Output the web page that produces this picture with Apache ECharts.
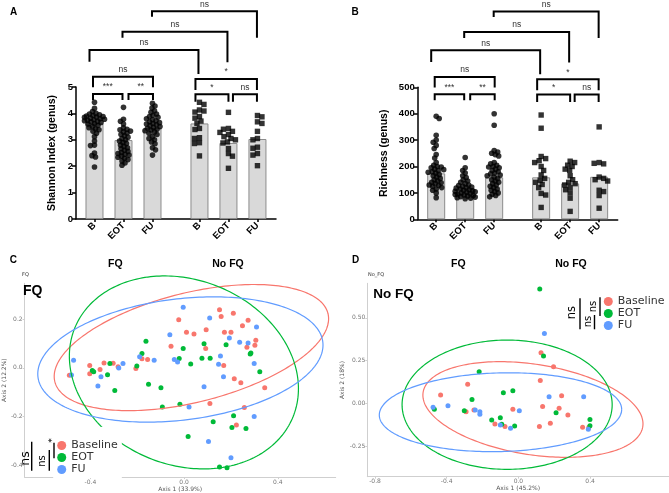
<!DOCTYPE html>
<html><head><meta charset="utf-8">
<script src="https://cdn.jsdelivr.net/npm/echarts@6/dist/echarts.min.js"></script>
<style>html,body{margin:0;padding:0;background:#fff}#c{width:669px;height:493px}</style>
</head><body><div id="c"></div>
<script>
// ---------------- DATA ----------------
const barCategories = ['B', 'EOT', 'FU', 'B', 'EOT', 'FU'];
const barGroups = ['FQ', 'FQ', 'FQ', 'No FQ', 'No FQ', 'No FQ'];
const groupNames = ['FQ', 'No FQ'];

const shannonTicks = [0, 1, 2, 3, 4, 5];
const richnessTicks = [0, 100, 200, 300, 400, 500];

const shannonMeans = [3.62, 2.99, 3.45, 3.62, 2.88, 3.03];
const shannonFqB = [4.42, 4.19, 4.07, 4.0, 3.98, 3.95, 3.92, 3.9, 3.88, 3.86, 3.85, 3.82, 3.8, 3.78, 3.76, 3.74, 3.72, 3.7, 3.68, 3.66, 3.62, 3.6, 3.55, 3.5, 3.46, 3.42, 3.38, 3.32, 3.25, 3.12, 2.95, 2.8, 2.78, 2.5, 2.4, 2.35, 1.97];
const shannonFqEOT = [4.23, 3.78, 3.7, 3.6, 3.45, 3.4, 3.38, 3.33, 3.3, 3.26, 3.2, 3.15, 3.1, 3.05, 3.0, 2.95, 2.9, 2.86, 2.8, 2.75, 2.7, 2.66, 2.6, 2.56, 2.52, 2.48, 2.45, 2.42, 2.38, 2.34, 2.3, 2.25, 2.2, 2.12, 2.04];
const shannonFqFU = [4.38, 4.28, 4.2, 4.1, 4.04, 3.98, 3.92, 3.88, 3.85, 3.8, 3.76, 3.72, 3.68, 3.65, 3.62, 3.6, 3.57, 3.54, 3.5, 3.47, 3.44, 3.4, 3.37, 3.34, 3.3, 3.25, 3.2, 3.12, 3.05, 3.0, 2.92, 2.85, 2.7, 2.62, 2.42];
const shannonNoFqB = [4.42, 4.34, 4.13, 4.09, 4.05, 3.88, 3.82, 3.71, 3.62, 3.43, 3.39, 3.08, 3.05, 2.89, 2.86, 2.39];
const shannonNoFqEOT = [4.04, 3.43, 3.4, 3.32, 3.28, 3.2, 3.12, 3.05, 3.0, 2.92, 2.88, 2.67, 2.48, 2.38, 1.92];
const shannonNoFqFU = [3.92, 3.87, 3.68, 3.62, 3.32, 3.05, 3.0, 2.72, 2.68, 2.48, 2.42, 2.02];

const richnessMeans = [174, 117, 159, 159, 136, 161];
const richnessFqB = [390, 382, 318, 300, 292, 280, 268, 245, 232, 215, 205, 200, 198, 195, 190, 188, 185, 180, 178, 175, 170, 165, 160, 155, 150, 145, 140, 138, 135, 130, 128, 125, 120, 115, 110, 100, 82];
const richnessFqEOT = [234, 195, 185, 175, 165, 158, 150, 145, 140, 135, 130, 128, 125, 122, 120, 118, 115, 112, 110, 108, 106, 104, 102, 100, 98, 96, 94, 92, 90, 88, 86, 84, 82, 80, 78];
const richnessFqFU = [400, 356, 260, 255, 250, 245, 240, 215, 210, 205, 200, 198, 195, 190, 185, 180, 175, 172, 168, 165, 160, 155, 150, 145, 140, 135, 130, 125, 120, 115, 110, 105, 100, 95, 90, 85];
const richnessNoFqB = [395, 345, 238, 230, 222, 215, 200, 185, 168, 155, 148, 140, 132, 120, 98, 92, 45];
const richnessNoFqEOT = [220, 215, 205, 200, 190, 185, 165, 150, 140, 135, 130, 120, 112, 100, 80, 30];
const richnessNoFqFU = [350, 215, 212, 210, 160, 155, 150, 145, 110, 105, 90, 42];

// comparisons: [fromBar, toBar, label]
const comparisons = [[2, 5, 'ns'], [1, 4, 'ns'], [0, 3, 'ns'], [0, 2, 'ns'], [0, 1, '***'], [1, 2, '**'], [3, 5, '*'], [3, 4, '*'], [4, 5, 'ns']];

const pcoaGroups = ['Baseline', 'EOT', 'FU'];
const pcoaColors = ['#F8766D', '#00BA38', '#619CFF'];

const fqBaseline = [[-0.49,-0.031],[-0.403,0.0095],[-0.403,-0.024],[-0.359,-0.007],[-0.342,0.02],[-0.303,0.019],[-0.282,0.004],[-0.206,-0.003],[-0.18,0.037],[-0.156,0.034],[-0.056,0.088],[-0.023,0.197],[0.01,0.146],[0.042,0.139],[0.094,0.156],[0.092,0.079],[0.151,0.238],[0.158,0.211],[0.172,0.146],[0.2,0.146],[0.21,0.224],[0.169,0.0095],[0.214,-0.045],[0.242,-0.061],[0.249,0.173],[0.273,0.195],[0.268,0.084],[0.302,0.093],[0.306,0.113],[0.344,-0.082],[0.11,-0.147],[0.257,-0.163],[0.223,-0.235]];
const fqEOT = [[-0.392,-0.011],[-0.386,-0.016],[-0.327,-0.029],[-0.317,0.018],[-0.296,-0.093],[-0.202,0.007],[-0.18,0.059],[-0.163,0.109],[-0.152,-0.068],[-0.099,-0.082],[-0.093,-0.161],[-0.021,0.038],[-0.004,0.079],[-0.018,-0.15],[0.028,0.016],[0.017,-0.282],[0.076,0.039],[0.085,0.099],[0.111,0.039],[0.124,-0.222],[0.179,0.095],[0.211,-0.197],[0.204,-0.245],[0.264,-0.249],[0.285,0.061],[0.282,0.057],[0.323,-0.016],[0.151,-0.408],[0.183,-0.411]];
const fqFU = [[-0.481,-0.03],[-0.472,0.031],[-0.368,-0.075],[-0.355,-0.037],[-0.279,-0.001],[-0.261,0.018],[-0.19,0.045],[-0.128,0.031],[-0.061,0.136],[-0.042,0.034],[-0.028,0.024],[-0.004,0.249],[0.021,-0.161],[0.085,-0.078],[0.109,0.204],[0.104,-0.303],[0.147,0.014],[0.155,0.048],[0.168,-0.037],[0.193,0.122],[0.2,-0.37],[0.237,0.105],[0.273,0.102],[0.299,0.018],[0.309,0.167],[0.299,-0.2]];

const nofqBaseline = [[-0.434,0.049],[-0.283,0.111],[-0.292,-0.049],[-0.248,-0.039],[-0.131,-0.121],[-0.075,-0.136],[-0.031,-0.035],[0.122,0.133],[0.126,0.296],[0.135,-0.019],[0.196,0.214],[0.178,-0.117],[0.117,-0.136],[0.227,-0.029],[0.241,0.045],[0.276,-0.068],[0.358,-0.14],[0.393,-0.14]];
const nofqEOT = [[-0.469,-0.035],[-0.302,-0.043],[-0.259,0.023],[-0.219,0.185],[-0.149,-0.097],[-0.101,-0.084],[-0.093,-0.123],[-0.084,0.062],[-0.031,0.074],[-0.021,-0.133],[0.119,0.669],[0.14,0.277],[0.21,-0.055],[0.399,-0.094],[0.399,-0.131]];
const nofqFU = [[-0.476,-0.023],[-0.393,-0.014],[-0.241,-0.039],[-0.215,-0.049],[-0.215,-0.064],[-0.101,-0.127],[-0.044,-0.146],[0.005,-0.043],[0.145,0.409],[0.171,0.039],[0.364,0.039],[0.39,-0.152]];

// ellipses: [cx, cy, ux, uy, vx, vy] (centre + two conjugate semi-axes)
const fqEllipseBaseline = [0.031, 0.083, 0.583, 0.140, 0.056, -0.218];
const fqEllipseEOT = [-0.001, -0.019, 0.466, -0.182, -0.148, -0.352];
const fqEllipseFU = [-0.016, 0.034, 0.608, 0.072, 0.031, -0.247];
const nofqEllipseBaseline = [0.081, -0.036, 0.613, -0.098, -0.033, -0.262];
const nofqEllipseEOT = [-0.063, -0.008, 0.586, 0, 0, 0.378];
const nofqEllipseFU = [-0.1, -0.052, 0.676, 0.018, 0.005, -0.230];

const fqAxis1Ticks = [-0.4, 0, 0.4];
const fqAxis2Ticks = [-0.4, -0.2, 0, 0.2];
const nofqAxis1Ticks = [-0.8, -0.4, 0, 0.4];
const nofqAxis2Ticks = [-0.25, 0, 0.25, 0.5];

// ---------------- LAYOUT ----------------
const GROUP_GAP = 0.62;
const barPos = barCategories.map((c, i) => i + groupNames.indexOf(barGroups[i]) * GROUP_GAP);
// bracket layout in px: [dxLeft, dxRight, top, legLeftBottom, legRightBottom] relative to grid top
const bracketLayout = [
  [-0.5, -0.5, -75.7, -70.3, -49.3],
  [-1, -1, -55.3, -49.3, -24.7],
  [-5, -1, -37, -25.3, -13],
  [-1.5, 0.5, -10.3, 0.3, 0.3],
  [-1.5, -1, 7, 13, 13],
  [5, 0.5, 7, 13, 13],
  [-4, -0.5, -8, 3, 3],
  [-4, 0, 7.3, 14.7, 14.7],
  [4.5, -0.5, 7.3, 14.7, 14.7]
];
const FONT = 'Liberation Sans';

const chart = echarts.init(document.getElementById('c'));

function barLabel(v) {
  const i = barPos.findIndex(p => Math.abs(p - v) < 1e-6);
  return i >= 0 ? barCategories[i] : '';
}

function barXAxis(gi) {
  return {
    gridIndex: gi, type: 'value', min: -0.638, max: 6.26,
    splitLine: { show: false },
    axisLine: { show: true, onZero: false, lineStyle: { color: '#000', width: 1.5 } },
    axisTick: { show: true, length: 3, customValues: barPos, lineStyle: { color: '#000', width: 1.5 } },
    axisLabel: { customValues: barPos, formatter: barLabel, rotate: 45, fontSize: 9.5, fontWeight: 'bold', color: '#000', margin: 5, fontFamily: FONT }
  };
}
function barYAxis(gi, ticks, name, gap) {
  return {
    gridIndex: gi, type: 'value', min: ticks[0], max: ticks[ticks.length - 1], interval: ticks[1] - ticks[0],
    name: name, nameLocation: 'middle', nameGap: gap,
    nameTextStyle: { fontSize: 10.5, fontWeight: 'bold', color: '#000', fontFamily: FONT },
    splitLine: { show: false },
    axisLine: { show: true, onZero: false, lineStyle: { color: '#000', width: 1.5 } },
    axisTick: { show: true, length: 4, lineStyle: { color: '#000', width: 1.5 } },
    axisLabel: { fontSize: 9.5, fontWeight: 'bold', color: '#000', margin: 3, fontFamily: FONT }
  };
}
function pcoaAxis(gi, min, max, ticks, dec, name, gap) {
  return {
    gridIndex: gi, type: 'value', min: min, max: max,
    name: name, nameLocation: 'middle', nameGap: gap,
    nameTextStyle: { fontSize: 6, color: '#555', fontFamily: 'DejaVu Sans' },
    splitLine: { show: false },
    axisLine: { show: true, onZero: false, lineStyle: { color: '#cfcfcf', width: 1 } },
    axisTick: { show: true, length: 2, customValues: ticks, lineStyle: { color: '#cfcfcf' } },
    axisLabel: { customValues: ticks, formatter: v => v.toFixed(dec), fontSize: 6, color: '#777', margin: 2, fontFamily: 'DejaVu Sans' }
  };
}

const series = [];
const swarmRefs = [];

function addBarPanel(gi, means, groups) {
  series.push({
    type: 'bar', xAxisIndex: gi, yAxisIndex: gi, barWidth: 18, silent: true, z: 2,
    data: means.map((m, i) => [barPos[i], m]),
    itemStyle: { color: '#d9d9d9', borderColor: '#8c8c8c', borderWidth: 1 }
  });
  groups.forEach((vals, i) => {
    const isFq = barGroups[i] === groupNames[0];
    swarmRefs.push({ idx: series.length, gi: gi, i: i, vals: vals, diam: isFq ? 3.6 : 4.6 });
    series.push({
      type: 'scatter', xAxisIndex: gi, yAxisIndex: gi, silent: true, z: 3,
      symbol: isFq ? 'circle' : 'rect', symbolSize: isFq ? 5.6 : 5.4,
      itemStyle: { color: '#000' },
      data: vals.map(v => ({ value: [barPos[i], v] }))
    });
  });
  series.push({
    type: 'custom', xAxisIndex: gi, yAxisIndex: gi, clip: false, silent: true, z: 5,
    data: comparisons.map((c, k) => [barPos[c[0]], barPos[c[1]], k]),
    renderItem: function (params, api) {
      const k = api.value(2);
      const L = bracketLayout[k];
      const cs = params.coordSys;
      const x1 = api.coord([api.value(0), 0])[0] + L[0];
      const x2 = api.coord([api.value(1), 0])[0] + L[1];
      const yt = cs.y + L[2], yl = cs.y + L[3], yr = cs.y + L[4];
      return {
        type: 'group', children: [
          { type: 'polyline', shape: { points: [[x1, yl], [x1, yt], [x2, yt], [x2, yr]] }, style: { stroke: '#000', lineWidth: 2, fill: null } },
          { type: 'text', style: { text: comparisons[k][2], x: (x1 + x2) / 2, y: yt - 2.5, textAlign: 'center', align: 'center', textVerticalAlign: 'bottom', verticalAlign: 'bottom', fontSize: 8.5, fontFamily: FONT, fill: '#333' } }
        ]
      };
    }
  });
}

function addPcoaPanel(gi, pointSets, ellipses) {
  pointSets.forEach((pts, g) => {
    series.push({
      name: pcoaGroups[g], type: 'scatter', xAxisIndex: gi, yAxisIndex: gi, silent: true, z: 2,
      symbolSize: 5, itemStyle: { color: pcoaColors[g], opacity: 1 }, data: pts
    });
  });
  ellipses.forEach((e, g) => {
    series.push({
      name: 'ellipse ' + pcoaGroups[g], type: 'custom', xAxisIndex: gi, yAxisIndex: gi, silent: true, z: 3,
      data: [[e[0], e[1]]],
      renderItem: function (params, api) {
        const pts = [];
        for (let t = 0; t <= 240; t++) {
          const a = t / 240 * 2 * Math.PI;
          pts.push(api.coord([e[0] + e[2] * Math.cos(a) + e[4] * Math.sin(a), e[1] + e[3] * Math.cos(a) + e[5] * Math.sin(a)]));
        }
        return { type: 'polyline', shape: { points: pts }, style: { stroke: pcoaColors[g], lineWidth: 1.2, fill: null } };
      }
    });
  });
}

addBarPanel(0, shannonMeans, [shannonFqB, shannonFqEOT, shannonFqFU, shannonNoFqB, shannonNoFqEOT, shannonNoFqFU]);
addBarPanel(1, richnessMeans, [richnessFqB, richnessFqEOT, richnessFqFU, richnessNoFqB, richnessNoFqEOT, richnessNoFqFU]);
addPcoaPanel(2, [fqBaseline, fqEOT, fqFU], [fqEllipseBaseline, fqEllipseEOT, fqEllipseFU]);
addPcoaPanel(3, [nofqBaseline, nofqEOT, nofqFU], [nofqEllipseBaseline, nofqEllipseEOT, nofqEllipseFU]);

function txt(x, y, s, size, weight, opts) {
  opts = opts || {};
  return {
    type: 'text', x: x, y: y, rotation: opts.rot || 0, z: 20,
    style: { text: s, x: 0, y: 0, fontSize: size, fontWeight: weight, fontFamily: opts.font || FONT, fill: opts.color || '#000',
      textAlign: opts.align || 'center', align: opts.align || 'center', textVerticalAlign: 'middle', verticalAlign: 'middle' }
  };
}
function vline(x, y1, y2) {
  return { type: 'line', z: 20, shape: { x1: x, y1: y1, x2: x, y2: y2 }, style: { stroke: '#000', lineWidth: 1.4 } };
}
const R = Math.PI / 2;
const graphics = [
  txt(13.7, 12.7, 'A', 10, 'bold'), txt(355, 12.7, 'B', 10, 'bold'),
  txt(13.3, 260.5, 'C', 10, 'bold'), txt(355.5, 260, 'D', 10, 'bold'),
  txt(115.3, 264.2, groupNames[0], 10.5, 'bold'), txt(228, 264.2, groupNames[1], 10.5, 'bold'),
  txt(458.3, 264.2, groupNames[0], 10.5, 'bold'), txt(571, 264.2, groupNames[1], 10.5, 'bold'),
  txt(22, 275, 'FQ', 5, 'normal', { align: 'left', color: '#333', font: 'DejaVu Sans' }),
  txt(368, 275, 'No_FQ', 5, 'normal', { align: 'left', color: '#333', font: 'DejaVu Sans' }),
  txt(23, 291.2, 'FQ', 14, 'bold', { align: 'left' }),
  txt(373.3, 294.7, 'No FQ', 13.5, 'bold', { align: 'left' }),
  // significance between groups (panel C)
  txt(25.5, 458.5, 'ns', 12.5, 'normal', { rot: R, font: 'DejaVu Sans' }), vline(31.7, 441.7, 470.7),
  txt(42, 461, 'ns', 10, 'normal', { rot: R, font: 'DejaVu Sans' }), vline(49.3, 450, 470.7),
  txt(52.5, 440.5, '*', 9, 'normal', { rot: R, font: 'DejaVu Sans' }), vline(54, 442.7, 458.3),
  // significance between groups (panel D)
  txt(572, 312.7, 'ns', 11.5, 'normal', { rot: R, font: 'DejaVu Sans' }), vline(580, 298.3, 329.3),
  txt(588.3, 321.5, 'ns', 10, 'normal', { rot: R, font: 'DejaVu Sans' }), vline(594.5, 315, 329.3),
  txt(593.5, 306.5, 'ns', 10, 'normal', { rot: R, font: 'DejaVu Sans' }), vline(600, 297.3, 316)
];

const legendBase = {
  data: pcoaGroups, orient: 'vertical', icon: 'circle', itemWidth: 9, itemHeight: 9, itemGap: 1,
  selectedMode: false, textStyle: { fontSize: 11, fontFamily: 'DejaVu Sans', color: '#333', lineHeight: 10 }
};

const option = {
  animation: false,
  textStyle: { fontFamily: FONT },
  grid: [
    { left: 76, top: 87, width: 200, height: 132 },
    { left: 417.7, top: 87.3, width: 200, height: 132 },
    { left: 21.7, top: 283.3, width: 314, height: 195 },
    { left: 367.3, top: 283.3, width: 321.4, height: 193.4 }
  ],
  xAxis: [
    barXAxis(0), barXAxis(1),
    pcoaAxis(2, -0.681, 0.647, fqAxis1Ticks, 1, 'Axis 1 (33.9%)', 7),
    pcoaAxis(3, -0.843, 0.84, nofqAxis1Ticks, 1, 'Axis 1 (45.2%)', 8)
  ],
  yAxis: [
    barYAxis(0, shannonTicks, 'Shannon Index (genus)', 18),
    barYAxis(1, richnessTicks, 'Richness (genus)', 28.5),
    pcoaAxis(2, -0.449, 0.347, fqAxis2Ticks, 1, 'Axis 2 (12.2%)', 12.5),
    pcoaAxis(3, -0.429, 0.702, nofqAxis2Ticks, 2, 'Axis 2 (18%)', 17.5)
  ],
  legend: [
    Object.assign({}, legendBase, { left: 53.2, top: 427, padding: [13, 4, 3, 4], backgroundColor: '#fff' }),
    Object.assign({}, legendBase, { left: 599.8, top: 296, padding: [0, 4, 0, 4] })
  ],
  graphic: { elements: graphics },
  series: series
};

chart.setOption(option);

// beeswarm spread of dots, computed in screen space via the chart's own y scale
function swarmOffsets(values, toPx, diam, maxW) {
  const order = values.map((v, i) => i).sort((a, b) => values[b] - values[a]);
  const placed = [];
  const offs = new Array(values.length).fill(0);
  order.forEach((i, n) => {
    const y = toPx(values[i]);
    let chosen = 0;
    const signs = n % 2 ? [1, -1] : [-1, 1];
    outer:
    for (let s = 0; s <= maxW; s += 0.5) {
      for (const sg of signs) {
        const dx = s * sg;
        if (placed.every(p => (p.x - dx) * (p.x - dx) + (p.y - y) * (p.y - y) >= diam * diam)) { chosen = dx; break outer; }
      }
      chosen = s * signs[0];
    }
    placed.push({ x: chosen, y: y });
    offs[i] = chosen;
  });
  return offs;
}

const upd = series.map(() => ({}));
swarmRefs.forEach(ref => {
  const toPx = v => chart.convertToPixel({ gridIndex: ref.gi }, [barPos[ref.i], v])[1];
  const offs = swarmOffsets(ref.vals, toPx, ref.diam, 10);
  upd[ref.idx] = { data: ref.vals.map((v, k) => ({ value: [barPos[ref.i], v], symbolOffset: [offs[k], 0] })) };
});
chart.setOption({ series: upd });
</script>
</body></html>
